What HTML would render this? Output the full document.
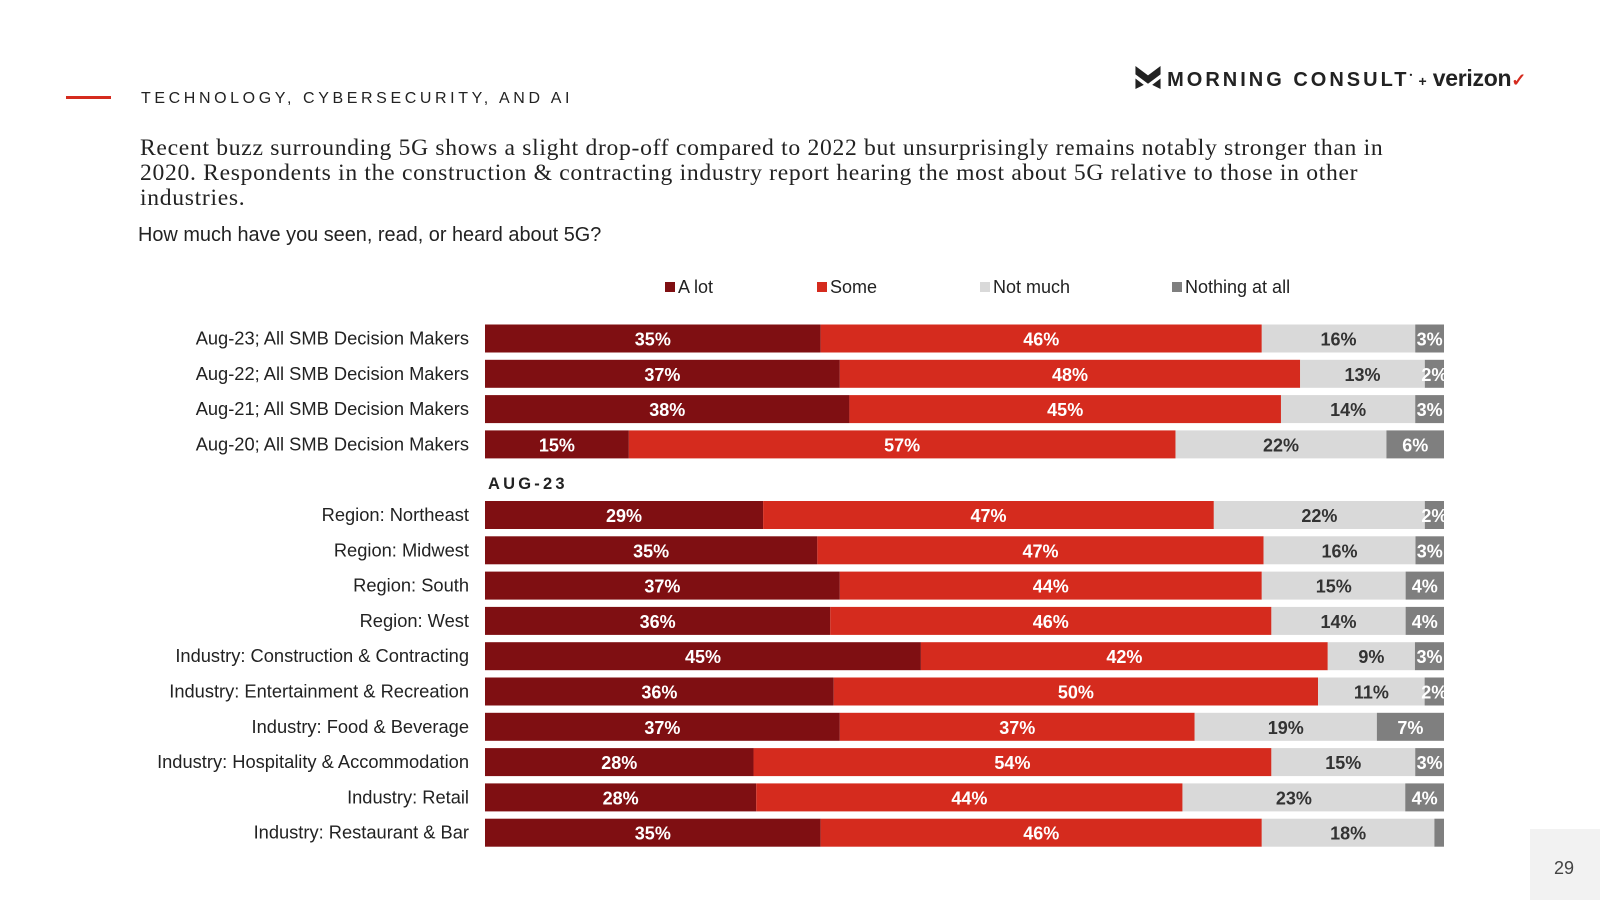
<!DOCTYPE html>
<html><head><meta charset="utf-8"><style>
body{margin:0;width:1600px;height:900px;background:#fff;position:relative;overflow:hidden;font-family:"Liberation Sans",Arial,sans-serif}
.abs{position:absolute}
</style></head><body>
<div class="abs" style="left:66px;top:96px;width:45px;height:3px;background:#d52b1e"></div>
<div class="abs" style="left:141px;top:90px;font-size:16px;letter-spacing:3.6px;color:#222">TECHNOLOGY, CYBERSECURITY, AND AI</div>
<div class="abs" style="left:1135px;top:65px;font-size:22px;font-weight:bold;color:#222;white-space:nowrap">
<svg width="26" height="23" viewBox="0 0 24 22" style="vertical-align:-3px"><path d="M0 0 L12 9 L24 0 L24 8 L12 17 L0 8Z M0 12 L8 18 L0 22Z M24 12 L16 18 L24 22Z" fill="#222"/></svg>
<span style="letter-spacing:3px;font-size:20px">MORNING CONSULT</span><sup style="font-size:8px">•</sup> <span style="font-size:14px">+</span> <span style="letter-spacing:-0.3px;font-size:23px">verizon</span><span style="color:#d52b1e;font-size:18px">✓</span></div>
<div class="abs" style="left:140px;top:136px;width:1295px;font-family:'Liberation Serif',serif;font-size:23.6px;letter-spacing:0.7px;line-height:25px;color:#222">Recent buzz surrounding 5G shows a slight drop-off compared to 2022 but unsurprisingly remains notably stronger than in 2020. Respondents in the construction &amp; contracting industry report hearing the most about 5G relative to those in other industries.</div>
<div class="abs" style="left:138px;top:224px;font-size:19.9px;color:#222">How much have you seen, read, or heard about 5G?</div>
<div class="abs" style="left:1530px;top:829px;width:70px;height:71px;background:#f2f2f2"><span style="position:absolute;left:24px;top:29px;font-size:18px;color:#444">29</span></div>
<svg id="chart" class="abs" style="left:0;top:0" width="1600" height="900"></svg>
<script>
const categories=["Aug-23; All SMB Decision Makers","Aug-22; All SMB Decision Makers","Aug-21; All SMB Decision Makers","Aug-20; All SMB Decision Makers","Region: Northeast","Region: Midwest","Region: South","Region: West","Industry: Construction & Contracting","Industry: Entertainment & Recreation","Industry: Food & Beverage","Industry: Hospitality & Accommodation","Industry: Retail","Industry: Restaurant & Bar"];
const aLot=[35,37,38,15,29,35,37,36,45,36,37,28,28,35];
const some=[46,48,45,57,47,47,44,46,42,50,37,54,44,46];
const notMuch=[16,13,14,22,22,16,15,14,9,11,19,15,23,18];
const nothing=[3,2,3,6,2,3,4,4,3,2,7,3,4,1];
const seriesNames=["A lot","Some","Not much","Nothing at all"];
const colors=["#7f0f12","#d52b1e","#d9d9d9","#7f7f7f"];
const textColors=["#fff","#fff","#333","#fff"];
const NS="http://www.w3.org/2000/svg",svg=document.getElementById('chart');
const x0=485,W=959,barH=28;
function rowY(i){return i<4?324.5+i*35.3:501+(i-4)*35.3;}
function xs(v,tot){return v/tot*W;}
function mk(t,a){const e=document.createElementNS(NS,t);for(const k in a)e.setAttribute(k,a[k]);svg.appendChild(e);return e;}
const series=[aLot,some,notMuch,nothing];
const legX=[665,817,980,1172];
seriesNames.forEach((n,s)=>{
 const r=mk('rect',{x:legX[s],y:282,width:10,height:10,fill:colors[s]});
 
 
 const t=mk('text',{x:legX[s]+13,y:293,'font-size':18,fill:'#222'});t.textContent=n;
 
 
});
const sub=mk('text',{x:488,y:489,'font-size':16.5,'font-weight':'bold','letter-spacing':3.2,fill:'#222'});sub.textContent="AUG-23";


categories.forEach((c,i)=>{
 const y=rowY(i);
 const lab=mk('text',{x:469,y:y+20,'text-anchor':'end','font-size':18.3,fill:'#222'});lab.textContent=c;
 
 
 const tot=series.reduce((a,s)=>a+s[i],0);
 let x=x0;
 series.forEach((s,k)=>{
  const w=xs(s[i],tot);
  const r=mk('rect',{x:x,y:y,width:w,height:barH,fill:colors[k]});
  
  
  if(s[i]>=2){
   const t=mk('text',{x:x+w/2,y:y+21,'text-anchor':'middle','font-size':18,'font-weight':'bold',fill:textColors[k]});
   t.textContent=s[i]+'%';
   
   
  }
  x+=w;
 });
});
mk('rect',{x:1444,y:315,width:30,height:540,fill:'#fff'});
</script>
</body></html>
